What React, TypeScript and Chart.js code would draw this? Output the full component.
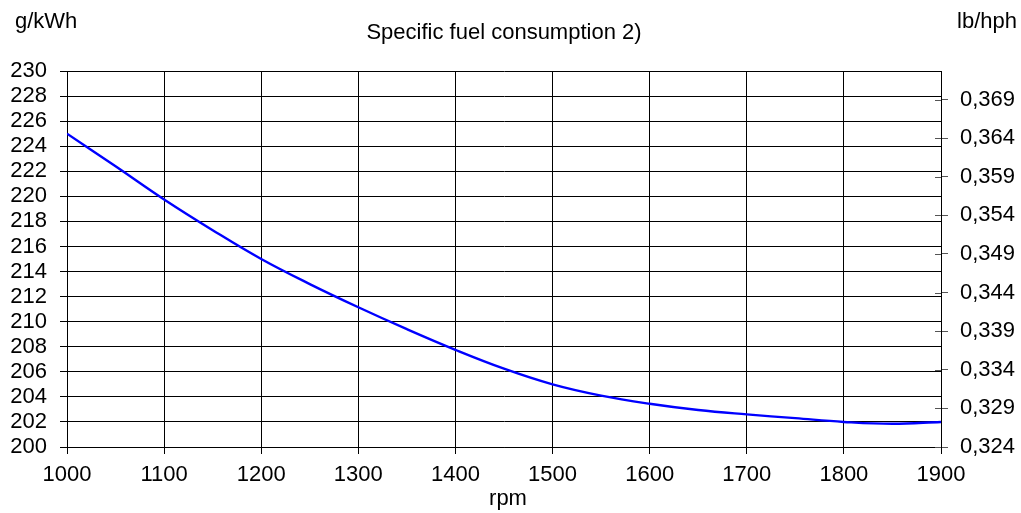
import React, { useEffect, useRef } from "react";
import { Chart, registerables } from "chart.js";

Chart.register(...registerables);

const rpm = [1000, 1050, 1100, 1150, 1200, 1250, 1300, 1350, 1400, 1450, 1500, 1550, 1600, 1650, 1700, 1750, 1800, 1850, 1900];
const sfc = [225, 222.4, 219.75, 217.3, 215, 213.0, 211.15, 209.4, 207.75, 206.25, 205, 204.1, 203.45, 202.95, 202.6, 202.3, 202.0, 201.85, 202.0];
const rightTicks = [0.324, 0.329, 0.334, 0.339, 0.344, 0.349, 0.354, 0.359, 0.364, 0.369];

const titleText = "Specific fuel consumption 2)";
const leftUnit = "g/kWh";
const rightUnit = "lb/hph";
const xTitle = "rpm";

const FONT = "Liberation Sans, Arial, sans-serif";
const FS = 22;

export default function App() {
  const ref = useRef<HTMLCanvasElement | null>(null);
  useEffect(() => {
    if (!ref.current) return;
    const textPlugin = {
      id: "texts",
      afterDraw(chart: any) {
        const ctx = chart.ctx;
        const ca = chart.chartArea;
        const y1 = chart.scales.y1;
        ctx.save();
        ctx.strokeStyle = "#555";
        ctx.lineWidth = 1;
        rightTicks.forEach((v) => {
          const py = Math.round(y1.getPixelForValue(v)) + 0.5;
          ctx.beginPath();
          ctx.moveTo(ca.right - 6, py);
          ctx.lineTo(ca.right, py);
          ctx.stroke();
        });
        ctx.fillStyle = "#000";
        ctx.font = `${FS}px ${FONT}`;
        ctx.textBaseline = "alphabetic";
        ctx.textAlign = "left";
        ctx.fillText(leftUnit, 15, 28);
        ctx.textAlign = "right";
        ctx.fillText(rightUnit, 1017, 28);
        ctx.textAlign = "center";
        ctx.fillText(titleText, (ca.left + ca.right) / 2, 39);
        ctx.fillText(xTitle, 508, 505);
        ctx.restore();
      },
    };
    const chart = new Chart(ref.current, {
      type: "line",
      data: {
        datasets: [
          {
            data: rpm.map((r, i) => ({ x: r, y: sfc[i] })),
            borderColor: "#0000FF",
            borderWidth: 2.4,
            pointRadius: 0,
            fill: false,
            tension: 0.4,
            yAxisID: "y",
          },
        ],
      },
      options: {
        animation: false,
        responsive: false,
        layout: { padding: { top: 71, left: 0, right: 0, bottom: 0 } },
        plugins: { legend: { display: false }, tooltip: { enabled: false }, title: { display: false } },
        scales: {
          x: {
            type: "linear",
            position: "bottom",
            min: 1000,
            max: 1900,
            ticks: {
              stepSize: 100,
              autoSkip: false,
              color: "#000",
              font: { family: FONT, size: FS },
              padding: 8,
              maxRotation: 0,
              callback: (v: any) => String(v),
            },
            grid: { color: "#000", lineWidth: 1, tickLength: 7, drawTicks: true },
            border: { color: "#000" },
            afterFit: (s: any) => { s.height = 66; },
          },
          y: {
            position: "left",
            min: 200,
            max: 230,
            ticks: { stepSize: 2, autoSkip: false, color: "#000", font: { family: FONT, size: FS }, padding: 13 },
            grid: { color: "#000", lineWidth: 1, tickLength: 7, drawTicks: true },
            border: { color: "#000" },
            afterFit: (s: any) => { s.width = 67; },
          },
          y1: {
            position: "right",
            min: 0.324,
            max: 0.3727,
            afterBuildTicks: (s: any) => { s.ticks = rightTicks.map((v) => ({ value: v })); },
            ticks: {
              autoSkip: false,
              color: "#000",
              font: { family: FONT, size: FS },
              padding: 12,
              callback: (v: any) => Number(v).toFixed(3).replace(".", ","),
            },
            grid: { drawOnChartArea: false, color: "#555", tickLength: 7, drawTicks: true },
            border: { color: "#000" },
            afterFit: (s: any) => { s.width = 80; },
          },
        },
      },
      plugins: [textPlugin],
    } as any);
    return () => chart.destroy();
  }, []);
  return (
    <div style={{ position: "fixed", left: 0, top: 0, width: 1021, height: 513, background: "#fff" }}>
      <canvas ref={ref} width={1021} height={513} style={{ display: "block" }} />
    </div>
  );
}
